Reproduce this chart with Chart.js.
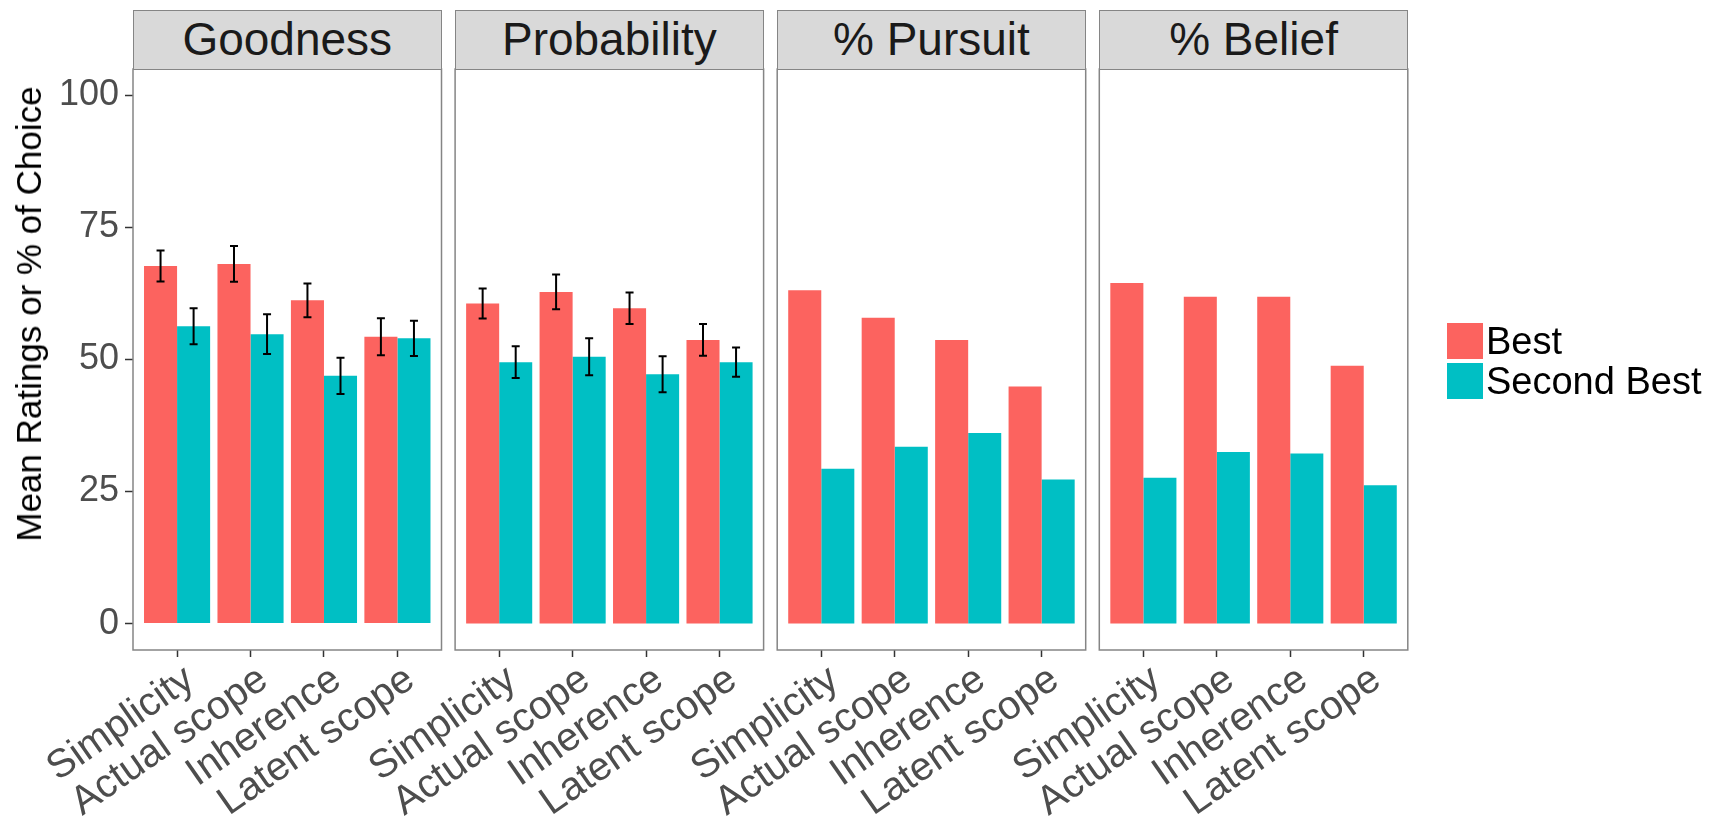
<!DOCTYPE html>
<html>
<head>
<meta charset="utf-8">
<script src="https://cdn.jsdelivr.net/npm/chart.js@4.4.1/dist/chart.umd.min.js"></script>
<style>
  body { margin: 0; background: #fff; font-family: 'Liberation Sans', Arial, sans-serif; }
  #wrap { position: relative; width: 1715px; height: 817px; overflow: hidden; }
  #wrap canvas { position: absolute; left: 0; top: 0; }
  .strip {
    position: absolute; top: 10px; height: 60px; box-sizing: border-box;
    background: #d9d9d9; border: 1.5px solid #858585; color: #1a1a1a;
    font-size: 46px; line-height: 56px; text-align: center; white-space: nowrap;
  }
  #ytitle {
    position: absolute; left: 29px; top: 314px; color: #000; font-size: 35px;
    white-space: nowrap; transform: translate(-50%, -50%) rotate(-90deg);
  }
  .key { position: absolute; left: 1447px; width: 36px; height: 36px; }
  .ltext { position: absolute; left: 1486px; font-size: 38px; line-height: 36px; color: #000; white-space: nowrap; }
</style>
</head>
<body>
<div id="wrap"></div>
<script>
// facets and categories
const facets = ['Goodness', 'Probability', '% Pursuit', '% Belief'];
const categories = ['Simplicity', 'Actual scope', 'Inherence', 'Latent scope'];
const seriesNames = ['Best', 'Second Best'];
const yTicks = [0, 25, 50, 75, 100];

// mean ratings / % of choice per facet
const bestGoodness = [67.7, 68.1, 61.2, 54.3];
const secondGoodness = [56.3, 54.8, 46.9, 54.0];
const bestProbability = [60.6, 62.8, 59.7, 53.7];
const secondProbability = [49.5, 50.5, 47.2, 49.5];
const bestPursuit = [63.1, 57.9, 53.7, 44.9];
const secondPursuit = [29.3, 33.5, 36.1, 27.3];
const bestBelief = [64.5, 61.9, 61.9, 48.8];
const secondBelief = [27.6, 32.5, 32.2, 26.2];

// standard errors (rating facets only)
const seBestGoodness = [2.95, 3.4, 3.2, 3.5];
const seSecondGoodness = [3.4, 3.75, 3.45, 3.35];
const seBestProbability = [2.85, 3.3, 3.0, 3.0];
const seSecondProbability = [3.0, 3.5, 3.4, 2.75];

const colors = ['#fc635f', '#00bfc4'];

const panels = [
  { title: facets[0], best: bestGoodness, second: secondGoodness, seBest: seBestGoodness, seSecond: seSecondGoodness },
  { title: facets[1], best: bestProbability, second: secondProbability, seBest: seBestProbability, seSecond: seSecondProbability },
  { title: facets[2], best: bestPursuit, second: secondPursuit },
  { title: facets[3], best: bestBelief, second: secondBelief }
];

// layout of the facet grid
const W = 1715, H = 817;
const panelTop = 69, panelBottom = 650;
const panelStart = 133, panelStep = 322.1, panelWidth = 308.5;
const positions = categories.map((c, i) => i + 1);
const fontFamily = "'Liberation Sans', Arial, sans-serif";

const wrap = document.getElementById('wrap');

// error bars + panel frame
const panelFrame = {
  id: 'panelFrame',
  afterDatasetsDraw(chart) {
    const ctx = chart.ctx, y = chart.scales.y;
    chart.data.datasets.forEach((ds, i) => {
      if (!ds.errors) return;
      chart.getDatasetMeta(i).data.forEach((bar, j) => {
        const top = y.getPixelForValue(ds.data[j] + ds.errors[j]);
        const bot = y.getPixelForValue(ds.data[j] - ds.errors[j]);
        ctx.save();
        ctx.strokeStyle = '#000';
        ctx.lineWidth = 2;
        ctx.beginPath();
        ctx.moveTo(bar.x, top); ctx.lineTo(bar.x, bot);
        ctx.moveTo(bar.x - 4, top); ctx.lineTo(bar.x + 4, top);
        ctx.moveTo(bar.x - 4, bot); ctx.lineTo(bar.x + 4, bot);
        ctx.stroke();
        ctx.restore();
      });
    });
  },
  afterDraw(chart) {
    const a = chart.chartArea, ctx = chart.ctx;
    ctx.save();
    ctx.strokeStyle = '#858585';
    ctx.lineWidth = 1.5;
    ctx.strokeRect(a.left, a.top, a.right - a.left, a.bottom - a.top);
    ctx.restore();
  }
};

panels.forEach((p, k) => {
  const left = panelStart + k * panelStep;
  const right = left + panelWidth;

  const strip = document.createElement('div');
  strip.className = 'strip';
  strip.style.left = left + 'px';
  strip.style.width = panelWidth + 'px';
  strip.textContent = p.title;

  const canvas = document.createElement('canvas');
  canvas.width = W;
  canvas.height = H;
  wrap.appendChild(canvas);
  wrap.appendChild(strip);

  new Chart(canvas, {
    type: 'bar',
    data: {
      labels: positions,
      datasets: [
        { label: seriesNames[0], data: p.best, errors: p.seBest, backgroundColor: colors[0] },
        { label: seriesNames[1], data: p.second, errors: p.seSecond, backgroundColor: colors[1] }
      ]
    },
    options: {
      responsive: false,
      animation: false,
      layout: { padding: { left: k === 0 ? 0 : left, right: W - right, top: panelTop, bottom: 0 } },
      datasets: { bar: { categoryPercentage: 0.9, barPercentage: 1.0, borderWidth: 0 } },
      plugins: { legend: { display: false }, tooltip: { enabled: false } },
      scales: {
        x: {
          type: 'linear',
          min: 0.4,
          max: 4.6,
          offset: false,
          afterBuildTicks: s => { s.ticks = positions.map(v => ({ value: v })); },
          afterFit: s => { s.height = H - panelBottom; },
          grid: { offset: false, drawOnChartArea: false, tickLength: 7, tickColor: '#333', tickWidth: 1.5 },
          border: { display: false },
          ticks: {
            autoSkip: false,
            minRotation: 35,
            maxRotation: 35,
            padding: -1,
            labelOffset: 13,
            color: '#4d4d4d',
            font: { family: fontFamily, size: 40 },
            callback: v => categories[v - 1]
          }
        },
        y: {
          display: k === 0,
          min: -5,
          max: 105,
          afterBuildTicks: s => { s.ticks = yTicks.map(v => ({ value: v })); },
          afterFit: s => { if (k === 0) s.width = panelStart; },
          grid: { drawOnChartArea: false, tickLength: 8, tickColor: '#333', tickWidth: 1.5 },
          border: { display: false },
          ticks: {
            padding: 6,
            color: '#4d4d4d',
            font: { family: fontFamily, size: 36 }
          }
        }
      }
    },
    plugins: [panelFrame]
  });
});

// y axis title
const yt = document.createElement('div');
yt.id = 'ytitle';
yt.textContent = 'Mean Ratings or % of Choice';
wrap.appendChild(yt);

// legend
seriesNames.forEach((name, i) => {
  const top = 323 + i * 40;
  const key = document.createElement('div');
  key.className = 'key';
  key.style.top = top + 'px';
  key.style.background = colors[i];
  const txt = document.createElement('div');
  txt.className = 'ltext';
  txt.style.top = top + 'px';
  txt.textContent = name;
  wrap.appendChild(key);
  wrap.appendChild(txt);
});
</script>
</body>
</html>
